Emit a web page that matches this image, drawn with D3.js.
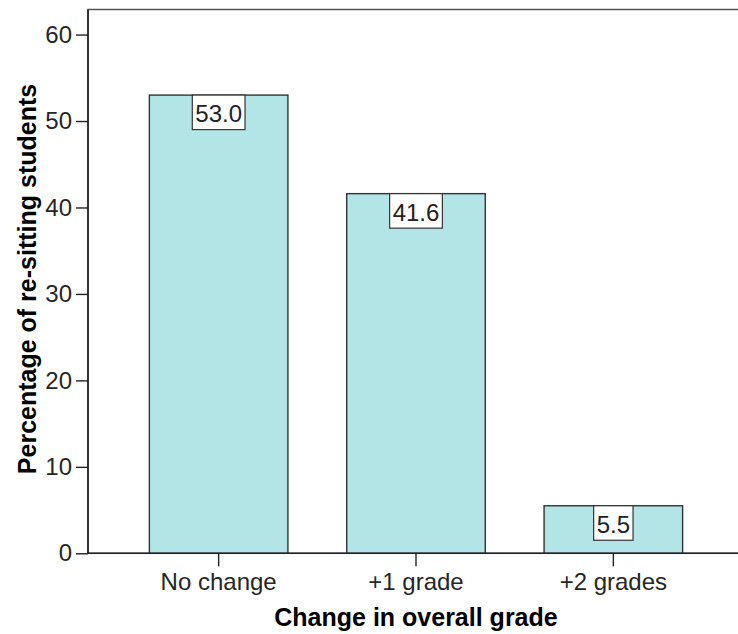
<!DOCTYPE html>
<html>
<head>
<meta charset="utf-8">
<script src="https://cdn.jsdelivr.net/npm/d3@7"></script>
<style>
  html, body { margin: 0; padding: 0; background: #fff; }
  svg { display: block; }
  text { font-family: "Liberation Sans", Arial, sans-serif; }
</style>
</head>
<body>
<svg id="chart" width="738" height="634"></svg>
<script>
const categories = ["No change", "+1 grade", "+2 grades"];
const values = [53.0, 41.6, 5.5];
const valueLabels = ["53.0", "41.6", "5.5"];
const yTicks = [0, 10, 20, 30, 40, 50, 60];
const xTitle = "Change in overall grade";
const yTitle = "Percentage of re-sitting students";

const svg = d3.select("#chart");
const plotLeft = 88, plotRight = 744, plotTop = 9.5, plotBottom = 553.3;

const x = d3.scaleBand().domain(categories).range([plotLeft, plotRight])
  .paddingInner(0.298).paddingOuter(0.311);
const y = d3.scaleLinear().domain([0, 62.9]).range([plotBottom, plotTop]);

// frame
svg.append("rect")
  .attr("x", plotLeft).attr("y", plotTop)
  .attr("width", plotRight - plotLeft).attr("height", plotBottom - plotTop)
  .attr("fill", "none").attr("stroke", "#555").attr("stroke-width", 1.5);

// bars
svg.append("g").selectAll("rect").data(values).join("rect")
  .attr("x", (d, i) => x(categories[i]))
  .attr("y", d => y(d))
  .attr("width", x.bandwidth())
  .attr("height", d => y(0) - y(d))
  .attr("fill", "#b4e5e6")
  .attr("stroke", "#333")
  .attr("stroke-width", 1.4);

// y axis
const yAxis = d3.axisLeft(y).tickValues(yTicks).tickFormat(d3.format("d"))
  .tickSize(12).tickPadding(4);
const gy = svg.append("g").attr("transform", `translate(${plotLeft},0)`).call(yAxis);
gy.select(".domain").remove();
gy.selectAll(".tick line").attr("stroke", "#222").attr("stroke-width", 1.4);
gy.selectAll(".tick text").attr("font-size", 24).attr("fill", "#262626")
  .attr("font-family", "Liberation Sans, Arial, sans-serif");

// x axis
const xAxis = d3.axisBottom(x).tickSize(13).tickPadding(7);
const gx = svg.append("g").attr("transform", `translate(0,${plotBottom})`).call(xAxis);
gx.select(".domain").remove();
gx.selectAll(".tick line").attr("stroke", "#222").attr("stroke-width", 1.4);
gx.selectAll(".tick text").attr("font-size", 24).attr("fill", "#262626")
  .attr("font-family", "Liberation Sans, Arial, sans-serif");

// axis lines
svg.append("line").attr("x1", plotLeft).attr("x2", plotLeft).attr("y1", plotTop).attr("y2", plotBottom)
  .attr("stroke", "#222").attr("stroke-width", 1.6);
svg.append("line").attr("x1", plotLeft).attr("x2", plotRight).attr("y1", plotBottom).attr("y2", plotBottom)
  .attr("stroke", "#222").attr("stroke-width", 1.6);

// value labels
const lg = svg.append("g");
values.forEach((v, i) => {
  const cx = x(categories[i]) + x.bandwidth() / 2;
  const g = lg.append("g");
  const t = g.append("text")
    .attr("x", cx).attr("y", y(v) + 27)
    .attr("text-anchor", "middle")
    .attr("font-size", 24).attr("fill", "#222")
    .text(valueLabels[i]);
  const w = t.node().getComputedTextLength() + 6;
  g.insert("rect", "text")
    .attr("x", cx - w / 2).attr("y", y(v))
    .attr("width", w).attr("height", 34.5)
    .attr("fill", "#fff").attr("stroke", "#333").attr("stroke-width", 1.2);
});

// titles
svg.append("text")
  .attr("x", 416).attr("y", 626)
  .attr("text-anchor", "middle")
  .attr("font-size", 25).attr("font-weight", "bold").attr("fill", "#000")
  .text(xTitle);
svg.append("text")
  .attr("transform", "translate(36,279) rotate(-90)")
  .attr("text-anchor", "middle")
  .attr("font-size", 25).attr("font-weight", "bold").attr("fill", "#000")
  .text(yTitle);
</script>
</body>
</html>
